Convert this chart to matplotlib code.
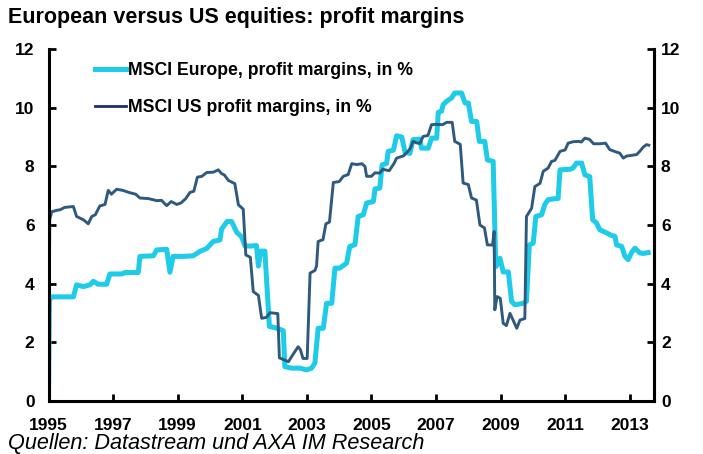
import matplotlib
matplotlib.use('Agg')
import matplotlib.pyplot as plt
from matplotlib.lines import Line2D

plt.rcParams['font.family'] = ['Liberation Sans Narrow', 'Liberation Sans', 'DejaVu Sans']

# MSCI US profit margins, in %
us_years = [1995.00, 1995.04, 1995.10, 1995.25, 1995.36, 1995.50, 1995.77, 1995.87,
            1996.08, 1996.23, 1996.34, 1996.45, 1996.59, 1996.75, 1996.85, 1996.95,
            1997.11, 1997.30, 1997.52, 1997.70, 1997.83, 1998.10, 1998.35, 1998.50,
            1998.66, 1998.80, 1998.97, 1999.10, 1999.25, 1999.38, 1999.50, 1999.61,
            1999.75, 1999.90, 2000.10, 2000.26, 2000.35, 2000.45, 2000.57, 2000.77,
            2000.88, 2001.03, 2001.11, 2001.25, 2001.34, 2001.50, 2001.60, 2001.75,
            2001.86, 2002.10, 2002.15, 2002.30, 2002.43, 2002.55, 2002.73, 2002.80,
            2002.88, 2003.01, 2003.10, 2003.25, 2003.30, 2003.35, 2003.50, 2003.59,
            2003.70, 2003.82, 2004.00, 2004.13, 2004.28, 2004.39, 2004.55, 2004.70,
            2004.80, 2004.85, 2005.00, 2005.11, 2005.26, 2005.35, 2005.55, 2005.70,
            2005.78, 2006.00, 2006.20, 2006.29, 2006.40, 2006.50, 2006.60, 2006.75,
            2006.86, 2007.00, 2007.20, 2007.33, 2007.50, 2007.58, 2007.75, 2007.84,
            2008.00, 2008.10, 2008.25, 2008.36, 2008.50, 2008.59, 2008.75, 2008.80,
            2008.82, 2008.89, 2008.99, 2009.08, 2009.18, 2009.29, 2009.39, 2009.50,
            2009.60, 2009.75, 2009.80, 2009.96, 2010.06, 2010.22, 2010.32, 2010.47,
            2010.58, 2010.68, 2010.84, 2011.00, 2011.09, 2011.25, 2011.41, 2011.50,
            2011.61, 2011.75, 2011.88, 2012.07, 2012.25, 2012.38, 2012.55, 2012.69,
            2012.80, 2012.90, 2013.21, 2013.30, 2013.42, 2013.52, 2013.59]
us_margin = [0.0, 6.2, 6.45, 6.5, 6.52, 6.6, 6.63, 6.29,
             6.18, 6.04, 6.29, 6.35, 6.65, 6.7, 7.18, 7.05,
             7.22, 7.18, 7.1, 7.05, 6.92, 6.9, 6.83, 6.84,
             6.66, 6.8, 6.7, 6.75, 6.9, 7.11, 7.15, 7.63,
             7.66, 7.79, 7.8, 7.88, 7.76, 7.7, 7.52, 7.41,
             6.69, 6.54, 4.98, 4.9, 3.73, 3.6, 2.82, 2.85,
             3.01, 2.98, 1.47, 1.4, 1.34, 1.55, 1.85, 1.75,
             1.45, 1.45, 4.36, 4.45, 4.6, 5.44, 5.5, 6.04,
             6.1, 7.45, 7.48, 7.66, 7.72, 8.09, 8.06, 8.09,
             8.0, 7.66, 7.66, 7.78, 7.77, 7.9, 7.85, 8.1,
             8.28, 8.36, 8.6, 8.85, 8.8, 8.78, 9.02, 9.05,
             9.42, 9.43, 9.42, 9.5, 9.5, 8.85, 8.75, 7.43,
             7.38, 6.92, 6.85, 6.0, 5.9, 5.32, 5.32, 5.78,
             3.11, 3.56, 3.5, 2.65, 2.57, 2.99, 2.75, 2.48,
             2.76, 2.81, 6.29, 6.57, 7.31, 7.42, 7.83, 7.94,
             8.17, 8.2, 8.51, 8.56, 8.79, 8.84, 8.85, 8.83,
             8.96, 8.92, 8.77, 8.77, 8.79, 8.57, 8.5, 8.45,
             8.28, 8.35, 8.4, 8.5, 8.66, 8.74, 8.72]

# MSCI Europe, profit margins, in %
eu_years = [1995.00, 1995.03, 1995.10, 1995.36, 1995.77, 1995.87, 1996.08, 1996.28,
            1996.39, 1996.54, 1996.80, 1996.90, 1997.27, 1997.37, 1997.78, 1997.83,
            1998.25, 1998.35, 1998.66, 1998.76, 1998.86, 1999.17, 1999.48, 1999.69,
            1999.90, 2000.10, 2000.31, 2000.36, 2000.53, 2000.67, 2000.83, 2000.98,
            2001.08, 2001.23, 2001.44, 2001.50, 2001.57, 2001.70, 2001.84, 2002.01,
            2002.27, 2002.32, 2002.53, 2002.79, 2002.99, 2003.15, 2003.25, 2003.35,
            2003.51, 2003.61, 2003.77, 2003.87, 2004.02, 2004.23, 2004.33, 2004.49,
            2004.59, 2004.75, 2004.85, 2005.06, 2005.11, 2005.26, 2005.33, 2005.47,
            2005.52, 2005.68, 2005.78, 2005.94, 2006.04, 2006.19, 2006.29, 2006.50,
            2006.55, 2006.76, 2006.86, 2007.02, 2007.07, 2007.17, 2007.22, 2007.33,
            2007.48, 2007.58, 2007.79, 2007.90, 2008.00, 2008.10, 2008.26, 2008.34,
            2008.51, 2008.59, 2008.77, 2008.85, 2008.98, 2009.08, 2009.24, 2009.34,
            2009.44, 2009.70, 2009.80, 2009.89, 2010.01, 2010.09, 2010.27, 2010.37,
            2010.47, 2010.68, 2010.78, 2010.84, 2011.15, 2011.25, 2011.35, 2011.51,
            2011.61, 2011.76, 2011.85, 2011.97, 2012.07, 2012.28, 2012.44, 2012.54,
            2012.59, 2012.75, 2012.85, 2012.95, 2013.06, 2013.16, 2013.31, 2013.42,
            2013.57]
eu_margin = [0.0, 3.45, 3.55, 3.55, 3.55, 3.96, 3.9, 3.96,
             4.08, 3.98, 3.98, 4.33, 4.33, 4.38, 4.38, 4.93,
             4.95, 5.15, 5.17, 4.39, 4.93, 4.93, 4.95, 5.1,
             5.2, 5.44, 5.49, 5.86, 6.12, 6.12, 5.75, 5.6,
             5.29, 5.28, 5.3, 4.6, 5.11, 5.11, 2.54, 2.5,
             2.4, 1.17, 1.12, 1.12, 1.06, 1.12, 1.3, 2.48,
             2.48, 3.33, 3.33, 4.53, 4.53, 4.7, 5.27, 5.33,
             6.29, 6.35, 6.75, 6.8, 7.23, 7.26, 8.05, 8.1,
             8.51, 8.55, 9.04, 9.0, 8.48, 8.44, 8.91, 8.93,
             8.62, 8.62, 8.96, 8.96, 9.84, 9.88, 10.1, 10.22,
             10.33, 10.5, 10.5, 10.16, 10.16, 9.53, 9.53, 8.85,
             8.85, 8.22, 8.17, 4.58, 4.87, 4.4, 4.4, 3.39,
             3.28, 3.33, 3.4, 5.32, 5.38, 6.29, 6.35, 6.7,
             6.86, 6.9, 6.9, 7.88, 7.9, 7.95, 8.11, 8.11,
             7.71, 7.65, 6.18, 6.07, 5.84, 5.73, 5.64, 5.62,
             5.32, 5.27, 4.93, 4.82, 5.07, 5.21, 5.05, 5.03,
             5.06]

year_ticks = list(range(1995, 2014, 2))
value_ticks = list(range(0, 13, 2))

eu_color = '#1ECBE8'
us_color = '#2F5A7E'

fig = plt.figure(figsize=(7.03, 4.54), dpi=100)
ax = fig.add_axes([48.5 / 703, 53 / 454, 605.5 / 703, 352 / 454])

ax.plot(eu_years, eu_margin, color=eu_color, lw=3.6)
ax.plot(us_years, us_margin, color=us_color, lw=2.1)

ax.set_xlim(1995, 2013.75)
ax.set_ylim(0, 12)
ax.set_xticks(year_ticks)
ax.set_xticklabels([str(y) for y in year_ticks])
ax.set_yticks(value_ticks)

for side in ['left', 'right', 'bottom']:
    ax.spines[side].set_linewidth(2.2)
ax.spines['top'].set_visible(False)

ax.tick_params(axis='x', direction='in', length=5, width=2, pad=12, labelsize=12.5)
ax.tick_params(axis='y', direction='in', length=5, width=2, pad=10, labelsize=12.5)
for lab in ax.get_xticklabels() + ax.get_yticklabels():
    lab.set_fontweight('bold')

# rechte Achse mit gleichen Werten
ax2 = ax.twinx()
ax2.set_ylim(0, 12)
ax2.set_yticks(value_ticks)
ax2.tick_params(axis='y', direction='in', length=5, width=2, pad=5, labelsize=12.5)
for lab in ax2.get_yticklabels():
    lab.set_fontweight('bold')
ax2.spines['top'].set_visible(False)
ax2.spines['right'].set_linewidth(2.2)

handles = [Line2D([], [], color=eu_color, lw=3.6),
           Line2D([], [], color='#1B2F6B', lw=2.0)]
ax.legend(handles, ['MSCI Europe, profit margins, in %', 'MSCI US profit margins, in %'],
          loc='upper left', bbox_to_anchor=(95 / 703, 1 - 62 / 454),
          bbox_transform=fig.transFigure, frameon=False, borderpad=0, borderaxespad=0,
          handlelength=1.75, handletextpad=0.1, labelspacing=1.12,
          prop={'size': 12.7, 'weight': 'bold'})

fig.text(8 / 703, 1 - 18 / 454, 'European versus US equities: profit margins',
         fontsize=15.5, fontweight='bold', va='center', ha='left')
fig.text(8 / 703, 1 - 443 / 454, 'Quellen: Datastream und AXA IM Research',
         fontsize=15.6, style='italic', va='center', ha='left')

fig.savefig('out.png', dpi=100)
